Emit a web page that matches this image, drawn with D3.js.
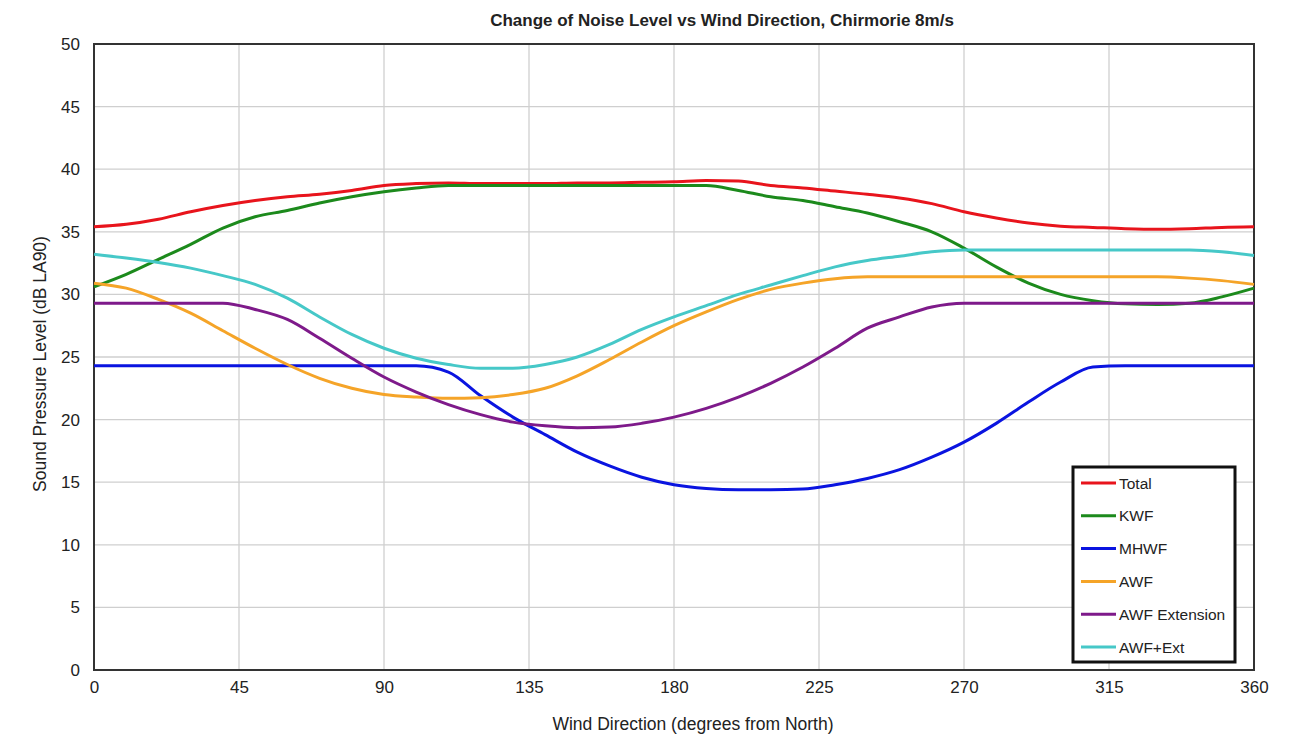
<!DOCTYPE html>
<html lang="en">
<head>
    <meta charset="UTF-8">
    <title>Change of Noise Level vs Wind Direction</title>
    <script src="https://d3js.org/d3.v7.min.js"></script>
    <style>
        body { margin: 0; background: #fff; }
        text { font-family: "Liberation Sans", Arial, sans-serif; fill: #222; }
    </style>
</head>
<body>
    <svg width="1297" height="736"></svg>

    <script>
        // wind direction (degrees from North)
        const angles = d3.range(0, 361, 10);

        const total    = [35.4,35.6,36.0,36.6,37.1,37.5,37.8,38.0,38.3,38.7,38.85,38.9,38.85,38.85,38.85,38.9,38.9,38.95,39.0,39.1,39.05,38.7,38.5,38.25,38.0,37.7,37.25,36.6,36.1,35.7,35.45,35.35,35.25,35.2,35.25,35.35,35.4];
        const kwf      = [30.6,31.6,32.8,34.0,35.3,36.2,36.7,37.3,37.8,38.2,38.5,38.7,38.7,38.7,38.7,38.7,38.7,38.7,38.7,38.7,38.3,37.8,37.5,37.0,36.5,35.8,35.0,33.7,32.2,30.9,30.0,29.5,29.25,29.2,29.3,29.8,30.5];
        const mhwf     = [24.3,24.3,24.3,24.3,24.3,24.3,24.3,24.3,24.3,24.3,24.3,23.8,21.9,20.2,18.8,17.4,16.3,15.4,14.8,14.5,14.4,14.4,14.45,14.8,15.3,16.0,17.0,18.2,19.7,21.4,23.0,24.2,24.3,24.3,24.3,24.3,24.3];
        const awf      = [30.9,30.5,29.6,28.5,27.1,25.7,24.4,23.3,22.5,22.0,21.8,21.7,21.75,22.0,22.5,23.5,24.8,26.2,27.5,28.6,29.6,30.4,30.9,31.25,31.4,31.4,31.4,31.4,31.4,31.4,31.4,31.4,31.4,31.4,31.3,31.1,30.8];
        const awfExt   = [29.3,29.3,29.3,29.3,29.3,28.8,28.0,26.5,24.9,23.4,22.2,21.2,20.4,19.8,19.5,19.35,19.4,19.7,20.2,20.9,21.8,22.9,24.2,25.7,27.3,28.2,29.0,29.3,29.3,29.3,29.3,29.3,29.3,29.3,29.3,29.3,29.3];
        const awfPlus  = [33.2,32.9,32.55,32.1,31.5,30.8,29.7,28.2,26.8,25.7,24.9,24.4,24.1,24.1,24.4,25.0,26.0,27.2,28.2,29.1,30.0,30.75,31.5,32.2,32.7,33.05,33.4,33.55,33.55,33.55,33.55,33.55,33.55,33.55,33.55,33.4,33.1];

        const seriesNames  = ["Total", "KWF", "MHWF", "AWF", "AWF Extension", "AWF+Ext"];
        const seriesValues = [total, kwf, mhwf, awf, awfExt, awfPlus];
        const seriesColors = ["#e8141c", "#1c8a1c", "#0a14e0", "#f5a428", "#7e1a8a", "#46c8c8"];

        const xTicks = d3.range(0, 361, 45);
        const yTicks = d3.range(0, 51, 5);

        const margin = { top: 44, right: 43, bottom: 66, left: 94 },
              width = 1297 - margin.left - margin.right,
              height = 736 - margin.top - margin.bottom;

        const svg = d3.select("svg")
                      .append("g")
                      .attr("transform", `translate(${margin.left},${margin.top})`);

        const xScale = d3.scaleLinear().domain([0, 360]).range([0, width]);
        const yScale = d3.scaleLinear().domain([0, 50]).range([height, 0]);

        // gridlines
        svg.append("g")
           .selectAll("line.vg")
           .data(xTicks)
           .enter()
           .append("line")
           .attr("x1", d => xScale(d)).attr("x2", d => xScale(d))
           .attr("y1", 0).attr("y2", height)
           .attr("stroke", "#cfcfcf").attr("stroke-width", 1.3);

        svg.append("g")
           .selectAll("line.hg")
           .data(yTicks)
           .enter()
           .append("line")
           .attr("x1", 0).attr("x2", width)
           .attr("y1", d => yScale(d)).attr("y2", d => yScale(d))
           .attr("stroke", "#cfcfcf").attr("stroke-width", 1.3);

        // axes
        const xAxis = svg.append("g")
           .attr("transform", `translate(0, ${height})`)
           .call(d3.axisBottom(xScale).tickValues(xTicks).tickSize(0).tickPadding(11));
        const yAxis = svg.append("g")
           .call(d3.axisLeft(yScale).tickValues(yTicks).tickSize(0).tickPadding(14));
        [xAxis, yAxis].forEach(a => {
            a.select(".domain").remove();
            a.selectAll("text").style("font-size", "17px").attr("fill", "#222");
        });

        // frame
        svg.append("rect")
           .attr("width", width).attr("height", height)
           .attr("fill", "none").attr("stroke", "#333").attr("stroke-width", 2);

        // lines
        const line = d3.line()
                       .x((d, i) => xScale(angles[i]))
                       .y(d => yScale(d))
                       .curve(d3.curveMonotoneX);

        seriesValues.forEach((vals, k) => {
            svg.append("path")
               .datum(vals)
               .attr("fill", "none")
               .attr("stroke", seriesColors[k])
               .attr("stroke-width", 3)
               .attr("d", line);
        });

        // legend
        const lg = svg.append("g").attr("transform", `translate(${1073 - margin.left},${467 - margin.top})`);
        lg.append("rect")
          .attr("width", 162).attr("height", 195)
          .attr("fill", "#fff").attr("stroke", "#111").attr("stroke-width", 3);
        seriesNames.forEach((name, k) => {
            const y = 16 + k * 32.8;
            lg.append("line")
              .attr("x1", 8).attr("x2", 43).attr("y1", y).attr("y2", y)
              .attr("stroke", seriesColors[k]).attr("stroke-width", 3);
            lg.append("text")
              .attr("x", 46).attr("y", y + 5.5)
              .style("font-size", "15.5px")
              .text(name);
        });

        // title and axis labels
        svg.append("text")
           .attr("x", 722 - margin.left).attr("y", -18)
           .attr("text-anchor", "middle")
           .style("font-size", "17px")
           .style("font-weight", "bold")
           .text("Change of Noise Level vs Wind Direction, Chirmorie 8m/s");

        svg.append("text")
           .attr("x", 693 - margin.left).attr("y", height + 60)
           .attr("text-anchor", "middle")
           .style("font-size", "17.5px")
           .text("Wind Direction (degrees from North)");

        svg.append("text")
           .attr("transform", `translate(-48, ${364 - margin.top}) rotate(-90)`)
           .attr("text-anchor", "middle")
           .style("font-size", "17.5px")
           .text("Sound Pressure Level (dB LA90)");
    </script>
</body>
</html>
